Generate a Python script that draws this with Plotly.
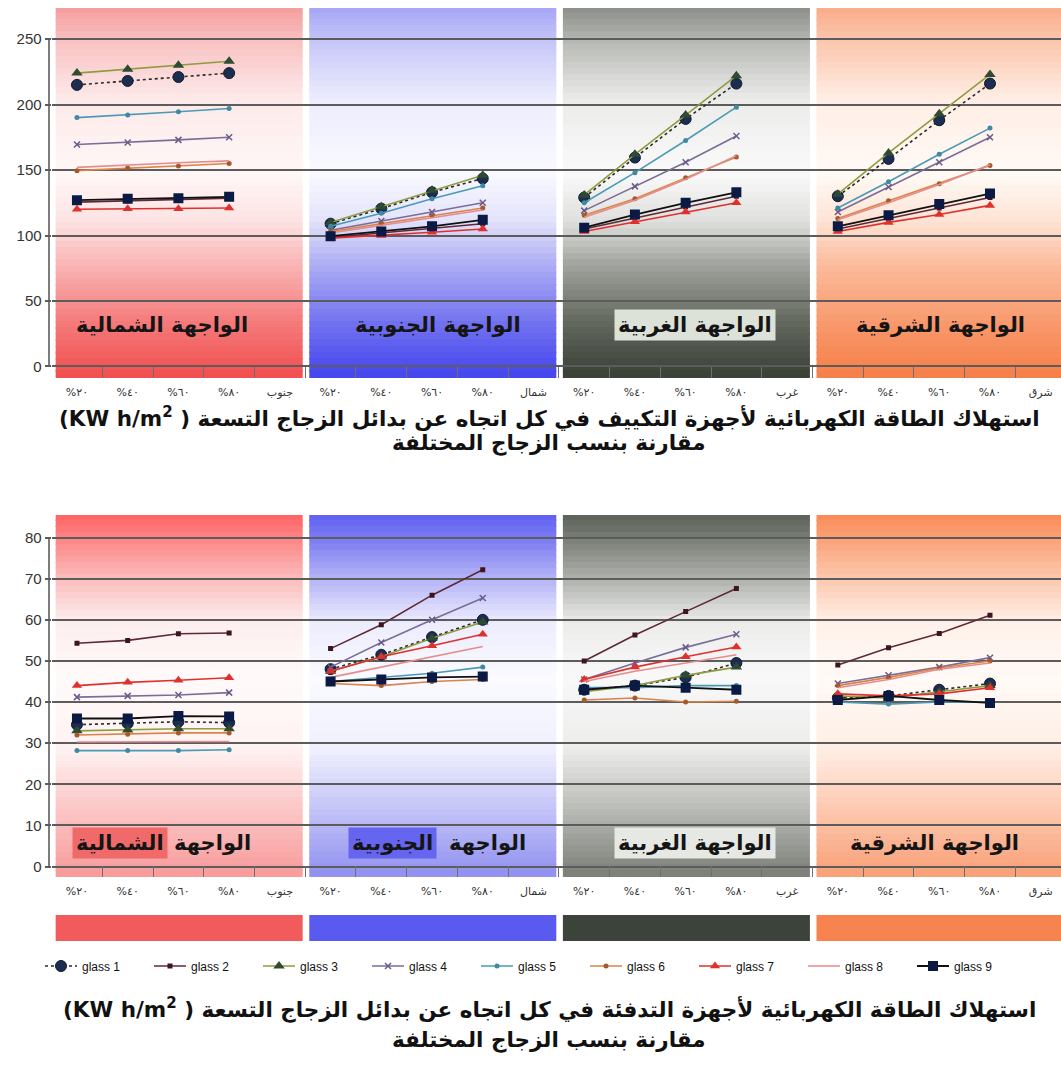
import plotly.graph_objects as go

W, H = 1061, 1079

# ---- category labels -------------------------------------------------------
ratio_labels = ["%٢٠", "%٤٠", "%٦٠", "%٨٠"]
direction_labels = ["جنوب", "شمال", "غرب", "شرق"]
facade_names = ["الواجهة الشمالية", "الواجهة الجنوبية", "الواجهة الغربية", "الواجهة الشرقية"]
glass_names = ["glass 1", "glass 2", "glass 3", "glass 4", "glass 5",
               "glass 6", "glass 7", "glass 8", "glass 9"]

# ---- cooling energy (north, south, west, east x 20/40/60/80 %) -------------
cool_g1 = [215, 218, 221, 224, 109, 120.5, 133, 143.5, 129, 159.5, 189, 216, 130, 158.5, 188, 216]
cool_g2 = [125.5, 126.5, 127.5, 128.5, 98.5, 102, 105.5, 109, 105, 113.5, 122, 130, 105, 113, 121, 129]
cool_g3 = [224, 227, 230, 233, 110, 122, 134.5, 146, 131, 162, 192, 222, 131.5, 163, 193, 223]
cool_g4 = [169.5, 171, 173, 175, 104, 111, 118, 125, 119, 137.5, 156, 176, 118, 137, 156, 175]
cool_g5 = [190, 192, 194.5, 197, 107, 117, 128, 138, 125, 148, 172.5, 198, 121, 141, 162, 182]
cool_g6 = [149.5, 151.5, 153, 155, 103, 109, 115, 121, 115.5, 128, 144, 160, 113, 126.5, 139.5, 153.5]
cool_g7 = [120, 120.5, 120.5, 121, 98, 100, 102.5, 105, 103, 110.5, 118, 125, 103, 110, 116, 123]
cool_g8 = [152, 154, 155.5, 157, 102, 107.5, 113.5, 119.5, 114, 127, 143, 161, 112, 125, 139, 154]
cool_g9 = [127, 128, 128.5, 129.5, 99.5, 103, 107, 112, 106, 116, 125, 133, 107, 115.5, 124, 132]

# ---- heating energy ---------------------------------------------------------
heat_g1 = [34.5, 34.8, 35.2, 35.0, 48, 51.5, 55.8, 60, 43, 44, 46, 49.5, 41, 41.5, 43, 44.5]
heat_g2 = [54.3, 55, 56.6, 56.8, 53, 58.8, 66, 72.2, 50, 56.3, 62, 67.6, 49, 53.2, 56.7, 61.1]
heat_g3 = [33, 33.2, 33.5, 33.5, 47.5, 51, 55.5, 59.5, 42.5, 44, 46.5, 48.5, 41.5, 41, 42.5, 44]
heat_g4 = [41.2, 41.5, 41.7, 42.3, 48.5, 54.5, 60, 65.3, 45.5, 49.5, 53.3, 56.5, 44.5, 46.5, 48.5, 50.8]
heat_g5 = [28.2, 28.2, 28.2, 28.4, 45, 46, 47, 48.5, 43.5, 43.5, 44, 44, 40, 39.5, 40, 40]
heat_g6 = [32, 32.2, 32.5, 32.5, 44.5, 44, 45, 45.5, 40.5, 41, 40, 40.2, 44, 46, 48.3, 50]
heat_g7 = [44, 44.8, 45.3, 45.9, 47.5, 51, 53.7, 56.5, 45.5, 48.5, 51, 53.4, 42, 41.5, 42, 43.5]
heat_g8 = [30.3, 30.3, 30.3, 30.4, 46, 48.5, 51, 53.5, 45, 47.5, 49.5, 51.5, 43.5, 45.5, 48, 49.5]
heat_g9 = [36, 36, 36.6, 36.5, 45, 45.5, 46, 46.2, 43, 44, 43.5, 43, 40.5, 41.5, 40.5, 39.8]

cool_series = [cool_g1, cool_g2, cool_g3, cool_g4, cool_g5, cool_g6, cool_g7, cool_g8, cool_g9]
heat_series = [heat_g1, heat_g2, heat_g3, heat_g4, heat_g5, heat_g6, heat_g7, heat_g8, heat_g9]

cool_ticks = [0, 50, 100, 150, 200, 250]
heat_ticks = [0, 10, 20, 30, 40, 50, 60, 70, 80]

title_cool = "(KW h/m<sup>2</sup> ) استهلاك الطاقة الكهربائية لأجهزة التكييف في كل اتجاه عن بدائل الزجاج التسعة"
title_heat = "(KW h/m<sup>2</sup> ) استهلاك الطاقة الكهربائية لأجهزة التدفئة في كل اتجاه عن بدائل الزجاج التسعة"
title_sub = "مقارنة بنسب الزجاج المختلفة"

# ---- x positions: 4 ratios + 1 direction slot per facade -------------------
tick_text = []
for d in direction_labels:
    tick_text += ratio_labels + [d]
tick_vals = list(range(len(tick_text)))
boundary_vals = [v + 0.5 for v in tick_vals]


def split_by_facade(values):
    xs, ys = [], []
    for p in range(4):
        xs += [5 * p + k for k in range(4)] + [None]
        ys += list(values[4 * p:4 * p + 4]) + [None]
    return xs, ys


styles = [
    dict(mode="lines+markers", line=dict(color="#2a2a2a", width=1.6, dash="dot"),
         marker=dict(symbol="circle", size=11, color="#1c2d50", line=dict(color="#0c1a30", width=1))),
    dict(mode="lines+markers", line=dict(color="#5e2a38", width=1.6),
         marker=dict(symbol="square", size=5, color="#3d1520")),
    dict(mode="lines+markers", line=dict(color="#8f9c3f", width=1.6),
         marker=dict(symbol="triangle-up", size=10, color="#2e4a30")),
    dict(mode="lines+markers", line=dict(color="#7b6d98", width=1.6),
         marker=dict(symbol="x-thin", size=6, line=dict(color="#6a5a8a", width=1.5))),
    dict(mode="lines+markers", line=dict(color="#4b9ab5", width=1.6),
         marker=dict(symbol="circle", size=5, color="#3e8aa5")),
    dict(mode="lines+markers", line=dict(color="#d9844a", width=1.6),
         marker=dict(symbol="circle", size=5, color="#a65a2a")),
    dict(mode="lines+markers", line=dict(color="#e0302e", width=1.6),
         marker=dict(symbol="triangle-up", size=9, color="#e0302e")),
    dict(mode="lines", line=dict(color="#e58c8c", width=1.6)),
    dict(mode="lines+markers", line=dict(color="#111111", width=1.8),
         marker=dict(symbol="square", size=10, color="#0b1a45")),
]

fig = go.Figure()

for name, vals, st in zip(glass_names, cool_series, styles):
    xs, ys = split_by_facade(vals)
    fig.add_trace(go.Scatter(x=xs, y=ys, xaxis="x", yaxis="y", name=name, legendgroup=name,
                             showlegend=False, connectgaps=False, hoverinfo="skip", **st))

for name, vals, st in zip(glass_names, heat_series, styles):
    xs, ys = split_by_facade(vals)
    fig.add_trace(go.Scatter(x=xs, y=ys, xaxis="x2", yaxis="y2", name=name, legendgroup=name,
                             showlegend=True, connectgaps=False, hoverinfo="skip", **st))


# ---- gradient facade backgrounds ------------------------------------------
def hex_rgb(h):
    h = h.lstrip("#")
    return tuple(int(h[i:i + 2], 16) for i in (0, 2, 4))


def color_at(stops, t):
    for (t0, c0), (t1, c1) in zip(stops[:-1], stops[1:]):
        if t0 <= t <= t1:
            f = 0 if t1 == t0 else (t - t0) / (t1 - t0)
            a, b = hex_rgb(c0), hex_rgb(c1)
            return "rgb(%d,%d,%d)" % tuple(round(a[i] + (b[i] - a[i]) * f) for i in range(3))
    return stops[-1][1]


def add_gradient(xref, yref, x0, x1, stops, n=60):
    for k in range(n):
        t = (k + 0.5) / n
        top = 1 - k / n
        bot = 1 - (k + 1) / n
        fig.add_shape(type="rect", xref=xref, yref=yref + " domain", x0=x0, x1=x1,
                      y0=bot, y1=min(1, top + 0.004), fillcolor=color_at(stops, t),
                      line_width=0, layer="below")


cool_stops = [
    [(0, "#f59c9c"), (0.1, "#f9c4c4"), (0.25, "#fde9e9"), (0.45, "#fff7f7"), (0.58, "#fde2e2"),
     (0.7, "#f9b4b4"), (0.85, "#f57c7c"), (1, "#f14e4e")],
    [(0, "#a4a4f6"), (0.1, "#c8c8f9"), (0.25, "#ececfd"), (0.45, "#fafaff"), (0.58, "#e2e2fb"),
     (0.7, "#acacf4"), (0.85, "#7474f0"), (1, "#4444ee")],
    [(0, "#8a8e87"), (0.1, "#b9bbb6"), (0.25, "#ebebea"), (0.45, "#fafafa"), (0.58, "#dfe0dd"),
     (0.7, "#a0a39d"), (0.85, "#646960"), (1, "#394036")],
    [(0, "#f9ab88"), (0.1, "#fbc8b0"), (0.25, "#ffede4"), (0.45, "#fffaf6"), (0.58, "#fde3d5"),
     (0.7, "#fbbb9c"), (0.85, "#f89a6e"), (1, "#f67f48")],
]
heat_stops = [
    [(0, "#ff6262"), (0.08, "#fd8a8a"), (0.18, "#fbbcbc"), (0.3, "#fdeeee"), (0.45, "#fffafa"),
     (0.65, "#fff2f2"), (0.8, "#fccaca"), (1, "#f89a9a")],
    [(0, "#5f5ff2"), (0.08, "#8080f3"), (0.18, "#b4b4f6"), (0.3, "#ececfd"), (0.45, "#fafaff"),
     (0.65, "#f0f0fe"), (0.8, "#c8c8f8"), (1, "#9090f0")],
    [(0, "#596056"), (0.08, "#7e837b"), (0.18, "#aeb1ab"), (0.3, "#ececeb"), (0.45, "#f9f9f9"),
     (0.65, "#ececeb"), (0.8, "#bfc1bc"), (1, "#7a7e77")],
    [(0, "#f98a55"), (0.08, "#fba57d"), (0.18, "#fcc8ae"), (0.3, "#fff0e8"), (0.45, "#fffaf7"),
     (0.65, "#ffeee4"), (0.8, "#fdcdb6"), (1, "#f99f76")],
]
bar_colors = ["#f25b5b", "#5a5af0", "#3c433a", "#f7834e"]

for p in range(4):
    add_gradient("x", "y", 5 * p - 0.42, 5 * p + 4.45, cool_stops[p])
    add_gradient("x2", "y2", 5 * p - 0.42, 5 * p + 4.45, heat_stops[p])
    fig.add_shape(type="rect", xref="x2", yref="paper", x0=5 * p - 0.42, x1=5 * p + 4.45,
                  y0=1 - 941 / H, y1=1 - 915 / H, fillcolor=bar_colors[p], line_width=0)

# vertical value-axis lines
fig.add_shape(type="line", xref="paper", yref="y", x0=49 / W, x1=49 / W, y0=0, y1=250,
              line=dict(color="#5c5c5c", width=1.6))
fig.add_shape(type="line", xref="paper", yref="y2", x0=49 / W, x1=49 / W, y0=0, y1=80,
              line=dict(color="#5c5c5c", width=1.6))

# ---- facade labels ----------------------------------------------------------
lab_font = dict(family="DejaVu Sans", size=21, color="#151515")
ann = []
for xpos, txt, bg in [(1.68, facade_names[0], None), (7.12, facade_names[1], None),
                      (12.18, facade_names[2], "#dde2d8"), (17.02, facade_names[3], None)]:
    a = dict(x=xpos, y=31.5, xref="x", yref="y", text="<b>%s</b>" % txt, showarrow=False,
             font=lab_font)
    if bg:
        a.update(bgcolor=bg, borderpad=3)
    ann.append(a)

ann += [
    dict(x=2.68, y=5.7, xref="x2", yref="y2", text="<b>الواجهة</b>", showarrow=False, font=lab_font),
    dict(x=0.85, y=5.7, xref="x2", yref="y2", text="<b>الشمالية</b>", showarrow=False, font=lab_font,
         bgcolor="#f06a6a", borderpad=3),
    dict(x=8.1, y=5.7, xref="x2", yref="y2", text="<b>الواجهة</b>", showarrow=False, font=lab_font),
    dict(x=6.22, y=5.7, xref="x2", yref="y2", text="<b>الجنوبية</b>", showarrow=False, font=lab_font,
         bgcolor="#6565ef", borderpad=3),
    dict(x=12.18, y=5.7, xref="x2", yref="y2", text="<b>%s</b>" % facade_names[2], showarrow=False,
         font=lab_font, bgcolor="#e6e8e3", borderpad=3),
    dict(x=16.9, y=5.7, xref="x2", yref="y2", text="<b>%s</b>" % facade_names[3], showarrow=False,
         font=lab_font),
]

# ---- titles -----------------------------------------------------------------
t_font = dict(family="DejaVu Sans", size=21.5, color="#111111")
for txt, ypx in [(title_cool, 417), (title_sub, 443), (title_heat, 1008), (title_sub, 1040)]:
    ann.append(dict(x=549 / W, y=1 - ypx / H, xref="paper", yref="paper", text="<b>%s</b>" % txt,
                    showarrow=False, font=t_font, xanchor="center", yanchor="middle"))

# ---- axes -------------------------------------------------------------------
x_left = 51.6 / W
xtick_font = dict(family="DejaVu Sans", size=11, color="#333333")
ytick_font = dict(family="Liberation Sans Narrow, Liberation Sans, sans-serif", size=15, color="#333333")

common_x = dict(domain=[x_left, 1], range=[-0.5, 19.4], tickmode="array", tickvals=tick_vals,
                ticktext=tick_text, showgrid=False, zeroline=False, showline=False, ticks="",
                tickfont=xtick_font, ticklabelstandoff=6, fixedrange=True,
                minor=dict(tickmode="array", tickvals=boundary_vals, ticks="inside", ticklen=11,
                           tickcolor="#6e6e6e", tickwidth=1, showgrid=False))
common_y = dict(showgrid=True, gridcolor="#5c5c5c", gridwidth=1.6, zeroline=False, showline=False,
                ticks="outside", ticklen=6, tickcolor="#5c5c5c", tickwidth=1.5, tickfont=ytick_font,
                tickmode="array", fixedrange=True)

fig.update_layout(
    width=W, height=H,
    margin=dict(l=0, r=0, t=0, b=0),
    paper_bgcolor="white", plot_bgcolor="white",
    xaxis=dict(anchor="y", **common_x),
    yaxis=dict(anchor="x", domain=[1 - 378 / H, 1 - 8 / H], range=[-8.8, 273.7], tickvals=cool_ticks,
               **common_y),
    xaxis2=dict(anchor="y2", **common_x),
    yaxis2=dict(anchor="x2", domain=[1 - 877 / H, 1 - 515 / H], range=[-2.55, 85.5], tickvals=heat_ticks,
                **common_y),
    legend=dict(orientation="h", x=0.5, xanchor="center", y=1 - 966 / H, yanchor="middle",
                entrywidth=62, entrywidthmode="pixels", itemwidth=32,
                font=dict(family="Liberation Sans Narrow, Liberation Sans, sans-serif", size=12,
                          color="#111111"),
                bgcolor="rgba(0,0,0,0)", traceorder="normal"),
    annotations=ann,
    showlegend=True,
)

fig.write_html("out.html")
